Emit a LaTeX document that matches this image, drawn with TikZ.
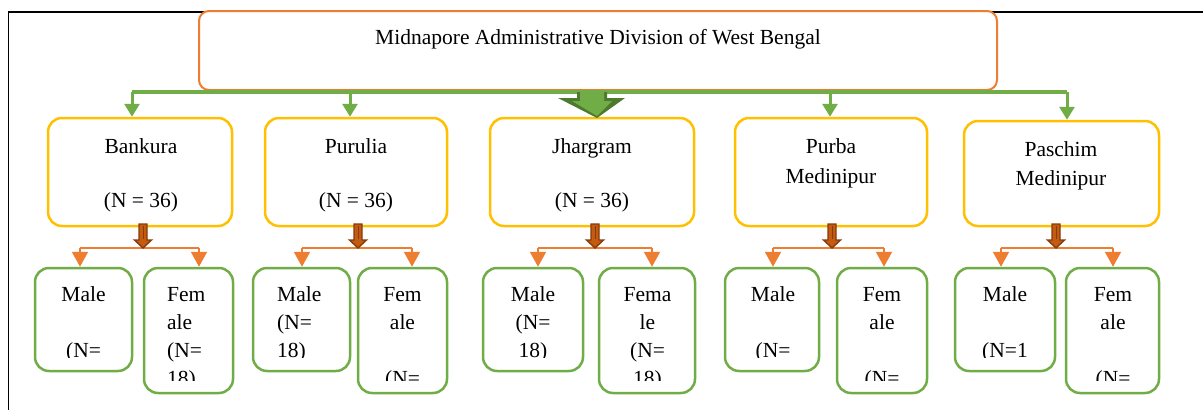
\documentclass[tikz,border=0pt]{standalone}
\usepackage{fontspec}
\setmainfont{Liberation Serif}
\usetikzlibrary{arrows.meta}
\definecolor{orangeC}{HTML}{ED7D31}
\definecolor{yellowC}{HTML}{FFC000}
\definecolor{greenC}{HTML}{70AD47}
\definecolor{greenD}{HTML}{4E7A2E}
\definecolor{brownD}{HTML}{843C0C}
\definecolor{brownL}{HTML}{C55A11}
\tikzset{
  frameline/.style={line width=1.3pt, black},
  topbox/.style={draw=orangeC, line width=2pt, rounded corners=10pt, fill=white, inner sep=0pt, minimum width=798pt, minimum height=79pt},
  distbox/.style={draw=yellowC, line width=2.5pt, rounded corners=14pt, fill=white, inner sep=0pt},
  genbox/.style={draw=greenC, line width=2.5pt, rounded corners=14pt, fill=white, inner sep=0pt},
  txt/.style={anchor=base, inner sep=0pt, font=\fontsize{21.5}{28}\selectfont},
  ltxt/.style={txt, anchor=base west},
  bus/.style={draw=greenC, line width=3.2pt},
  garrow/.style={-{Triangle[width=15pt,length=13pt]}, draw=greenC, fill=greenC, line width=3pt},
  obus/.style={draw=orangeC, line width=2pt},
  oarrow/.style={-{Triangle[width=16pt,length=15pt]}, draw=orangeC, fill=orangeC, line width=2pt},
  barrow/.pic={\filldraw[fill=brownL, draw=brownD, line width=1.4pt]
     (-4,-2) -- (4,-2) -- (4,14) -- (8.5,14) -- (0,22) -- (-8.5,14) -- (-4,14) -- cycle;
     \draw[brownD, line width=0.8pt] (0,0) -- (0,13);}
}
\begin{document}
\begin{tikzpicture}[x=1pt,y=-1pt]
\useasboundingbox (0,0) rectangle (1203,410);
\fill[white] (0,0) rectangle (1203,410);
% frame
\draw[frameline] (8.7,410) -- (8.7,12) -- (1203,12);

% top box
\node[topbox] (top) at (598,50.5) {};
\node[txt] (toptxt) at (598,44) {Midnapore Administrative Division of West Bengal};

% district boxes
\node[distbox, minimum width=184pt, minimum height=108pt] (B1) at (140,172) {};
\node[distbox, minimum width=182pt, minimum height=108pt] (B2) at (356,172) {};
\node[distbox, minimum width=204pt, minimum height=108pt] (B3) at (592,172) {};
\node[distbox, minimum width=192pt, minimum height=108pt] (B4) at (831,172) {};
\node[distbox, minimum width=195pt, minimum height=105pt] (B5) at (1061.5,173.5) {};

\node[txt] (t1a) at (141,153) {Bankura};
\node[txt] (t1b) at (141,207) {(N = 36)};
\node[txt] (t2a) at (356,153) {Purulia};
\node[txt] (t2b) at (356,207) {(N = 36)};
\node[txt] (t3a) at (592,153) {Jhargram};
\node[txt] (t3b) at (592,207) {(N = 36)};
\node[txt] (t4a) at (831,153) {Purba};
\node[txt] (t4b) at (831,183) {Medinipur};
\node[txt] (t5a) at (1061,156) {Paschim};
\node[txt] (t5b) at (1061,185) {Medinipur};

% green bus and arrows
\coordinate (g1) at (132,92);
\coordinate (g2) at (350,92);
\coordinate (g4) at (830,92);
\coordinate (g5) at (1067,92);
\draw[bus] (g1) -- (g5);
\draw[garrow] (g1) -- (g1 |- B1.north);
\draw[garrow] (g2) -- (g2 |- B2.north);
\draw[garrow] (g4) -- (g4 |- B4.north);
\draw[garrow] (g5) -- (g5 |- B5.north);
% central block arrow
\fill[greenD] (577,92) -- (607,92) -- (607,98) -- (625,98) -- (597,118) -- (558,98) -- (577,98) -- cycle;
\fill[greenC] (580,92) -- (604,92) -- (604,101) -- (612,101) -- (597,116) -- (572,101) -- (580,101) -- cycle;

% gender boxes
\node[genbox, minimum width=97pt, minimum height=103pt] (M1) at (83.5,319.5) {};
\node[genbox, minimum width=89pt, minimum height=125pt] (F1) at (188.5,330.5) {};
\node[genbox, minimum width=97pt, minimum height=103pt] (M2) at (301.5,319.5) {};
\node[genbox, minimum width=89pt, minimum height=125pt] (F2) at (402.5,330.5) {};
\node[genbox, minimum width=100pt, minimum height=103pt] (M3) at (533,319.5) {};
\node[genbox, minimum width=96pt, minimum height=125pt] (F3) at (647,330.5) {};
\node[genbox, minimum width=94pt, minimum height=103pt] (M4) at (772,319.5) {};
\node[genbox, minimum width=90pt, minimum height=125pt] (F4) at (882,330.5) {};
\node[genbox, minimum width=100pt, minimum height=103pt] (M5) at (1005,319.5) {};
\node[genbox, minimum width=93pt, minimum height=125pt] (F5) at (1112.5,330.5) {};

% gender texts (clipped to the text area)
\begin{scope}
  \clip (37,270) rectangle (130,357);
  \node[txt] (m1a) at (83.5,301) {Male};
  \node[txt] (m1c) at (83.5,357) {(N=};
\end{scope}
\begin{scope}
  \clip (146,270) rectangle (231,380);
  \node[ltxt] (f1a) at (167,301) {Fem};
  \node[ltxt] (f1b) at (167,329) {ale};
  \node[ltxt] (f1c) at (167,357) {(N=};
  \node[ltxt] (f1d) at (167,385) {18)};
\end{scope}
\begin{scope}
  \clip (255,270) rectangle (348,357);
  \node[ltxt] (m2a) at (277,301) {Male};
  \node[ltxt] (m2b) at (277,329) {(N=};
  \node[ltxt] (m2c) at (277,357) {18)};
\end{scope}
\begin{scope}
  \clip (360,270) rectangle (445,380);
  \node[txt] (f2a) at (402.5,301) {Fem};
  \node[txt] (f2b) at (402.5,329) {ale};
  \node[txt] (f2d) at (402.5,385) {(N=};
\end{scope}
\begin{scope}
  \clip (485,270) rectangle (581,357);
  \node[txt] (m3a) at (533,301) {Male};
  \node[txt] (m3b) at (533,329) {(N=};
  \node[txt] (m3c) at (533,357) {18)};
\end{scope}
\begin{scope}
  \clip (601,270) rectangle (693,380);
  \node[txt] (f3a) at (647.5,301) {Fema};
  \node[txt] (f3b) at (647.5,329) {le};
  \node[txt] (f3c) at (647.5,357) {(N=};
  \node[txt] (f3d) at (647.5,385) {18)};
\end{scope}
\begin{scope}
  \clip (727,270) rectangle (817,357);
  \node[txt] (m4a) at (773,301) {Male};
  \node[txt] (m4c) at (773,357) {(N=};
\end{scope}
\begin{scope}
  \clip (839,270) rectangle (925,380);
  \node[txt] (f4a) at (882,301) {Fem};
  \node[txt] (f4b) at (882,329) {ale};
  \node[txt] (f4d) at (882,385) {(N=};
\end{scope}
\begin{scope}
  \clip (957,270) rectangle (1053,357);
  \node[txt] (m5a) at (1005,301) {Male};
  \node[txt] (m5c) at (1005,357) {(N=1};
\end{scope}
\begin{scope}
  \clip (1068,270) rectangle (1157,380);
  \node[txt] (f5a) at (1113,301) {Fem};
  \node[txt] (f5b) at (1113,329) {ale};
  \node[txt] (f5d) at (1113,385) {(N=};
\end{scope}

% orange connectors
\foreach \i/\ml/\fl in {1/80/199, 2/302/412, 3/538/652, 4/773/884, 5/1001/1113} {
  \coordinate (ml\i) at (\ml,248);
  \coordinate (fl\i) at (\fl,248);
}
\foreach \i in {1,...,5} {
  \draw[obus] (ml\i) -- (fl\i);
  \draw[oarrow] (ml\i) -- (ml\i |- M\i.north);
  \draw[oarrow] (fl\i) -- (fl\i |- F\i.north);
}

% brown block arrows
\coordinate (br1) at (143,226);
\coordinate (br2) at (358,226);
\coordinate (br3) at (595,226);
\coordinate (br4) at (832,226);
\coordinate (br5) at (1056,226);
\foreach \i in {1,...,5} { \pic at (br\i) {barrow}; }
\end{tikzpicture}
\end{document}
